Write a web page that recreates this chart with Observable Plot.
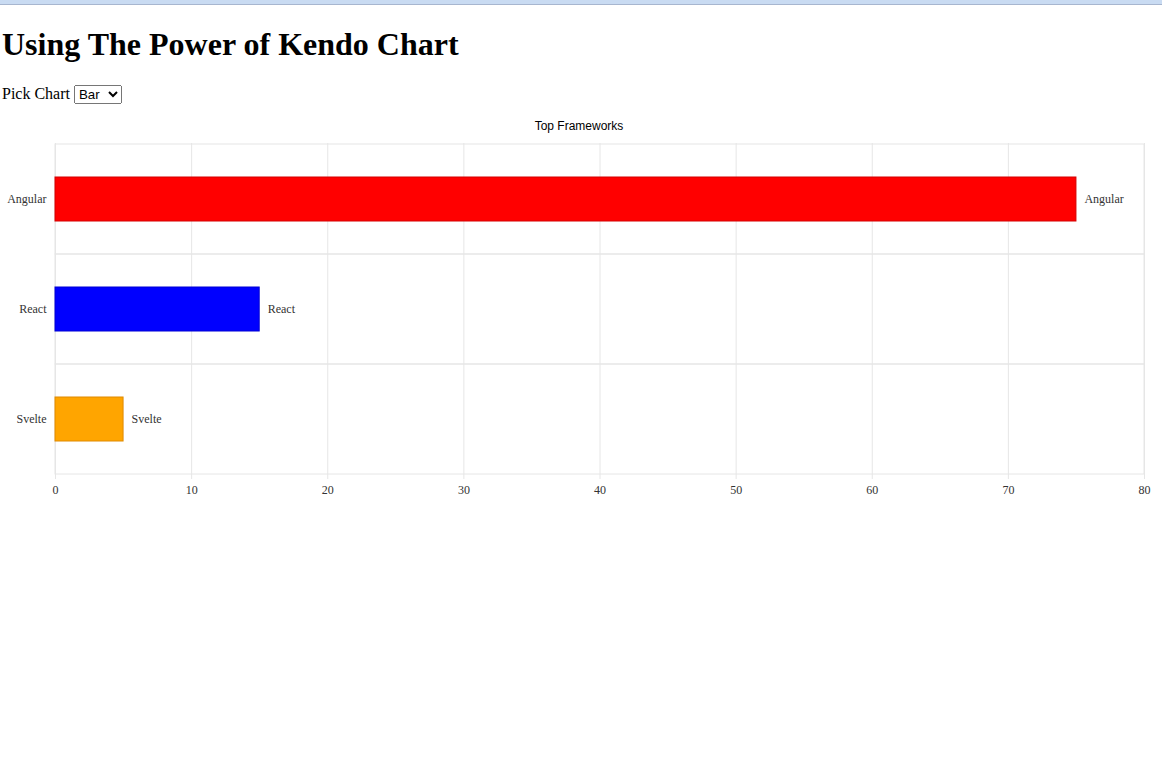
<!DOCTYPE html>
<html>
<head>
<meta charset="utf-8">
<script src="https://cdn.jsdelivr.net/npm/d3@7"></script>
<script src="https://cdn.jsdelivr.net/npm/@observablehq/plot@0.6"></script>
<style>
  html, body { margin: 0; padding: 0; background: #fff; }
  body { font-family: "Liberation Serif", "Times New Roman", serif; }
  #topbar { height: 4px; background: #c9dbf2; border-bottom: 1px solid #a7b6cf; }
  #page { padding: 0 2px; }
  h1 { font-size: 32px; font-weight: bold; margin: 21px 0 21px 0; line-height: 37px; }
  #picker { font-size: 16px; line-height: 20px; height: 20px; }
  #picker select { font-family: "Liberation Sans", Arial, sans-serif; font-size: 13.3px; }
  #charttitle { font-family: "Liberation Sans", Arial, sans-serif; font-size: 12px; line-height: 14px; text-align: center; width: 1154px; margin-top: 15px; color: #000; }
  #chart svg { display: block; }
</style>
</head>
<body>
<div id="topbar"></div>
<div id="page">
  <h1>Using The Power of Kendo Chart</h1>
  <div id="picker">Pick Chart <select><option>Bar</option><option>Pie</option><option>Line</option></select></div>
  <div id="charttitle">Top Frameworks</div>
  <div id="chart"></div>
</div>
<script>
const categories = ["Angular", "React", "Svelte"];
const values = [75, 15, 5];
const fills = ["#ff0000", "#0000ff", "#ffa500"];
const strokes = ["#d40000", "#0000d4", "#e08a00"];
const xDomain = [0, 80];
const xTicks = [0, 10, 20, 30, 40, 50, 60, 70, 80];

const data = categories.map((c, i) => ({category: c, value: values[i], fill: fills[i], stroke: strokes[i]}));
const serif = "Liberation Serif, Times New Roman, serif";

const chart = Plot.plot({
  width: 1158,
  height: 372,
  marginTop: 10,
  marginBottom: 30,
  marginLeft: 53,
  marginRight: 16,
  style: {background: "#fff", overflow: "visible"},
  x: {domain: xDomain, ticks: xTicks},
  y: {domain: categories, padding: 0, axis: null},
  marks: [
    Plot.gridX(xTicks, {stroke: "#e6e6e6", strokeOpacity: 1}),
    Plot.barX(categories, {y: d => d, x1: xDomain[0], x2: xDomain[1], fill: "none", stroke: "#e6e6e6"}),
    Plot.axisX({ticks: xTicks, tickSize: 4, tickPadding: 6, stroke: "#e6e6e6", fill: "#333", fontFamily: serif, fontSize: 12, label: null}),
    Plot.axisY({tickSize: 0, tickPadding: 9, fill: "#333", fontFamily: serif, fontSize: 12, label: null}),
    Plot.barX(data, {y: "category", x1: 0, x2: "value", fill: "fill", stroke: "stroke", insetTop: 33, insetBottom: 33}),
    Plot.text(data, {y: "category", x: "value", text: "category", dx: 8, textAnchor: "start", fill: "#333", fontFamily: serif, fontSize: 12})
  ]
});
document.getElementById("chart").appendChild(chart);
</script>
</body>
</html>
